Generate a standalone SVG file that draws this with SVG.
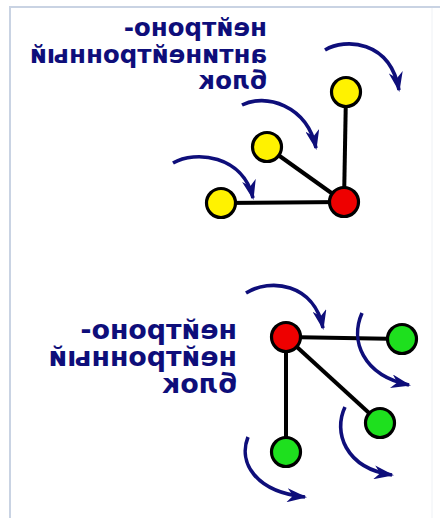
<svg xmlns="http://www.w3.org/2000/svg" width="440" height="518" viewBox="0 0 440 518">
<defs>
<style>
.edge{stroke:#000;stroke-width:4;fill:none}
.arr{stroke:#0e0e7a;stroke-width:3.6;fill:none;marker-end:url(#ah)}
.nd{stroke:#000;stroke-width:3.2}
.y{fill:#fff200}
.r{fill:#ee0000}
.g{fill:#1ee01e}
</style>
<marker id="ah" viewBox="0 0 20 14" refX="18" refY="7" markerWidth="20" markerHeight="14" markerUnits="userSpaceOnUse" orient="auto">
<path d="M0,0 L20,7 L0,14 L6,7 z" fill="#0e0e7a"/>
</marker>
</defs>
<rect x="0" y="0" width="440" height="518" fill="#fff"/>
<path d="M10,518 V7 H440" fill="none" stroke="#c9d3e3" stroke-width="2"/>
<path d="M432,8 V518" fill="none" stroke="#eef1f5" stroke-width="1"/>
<g id="label-top" font-family="DejaVu Sans" font-weight="bold" font-style="normal" fill="#0e0e7a" font-size="24.5">
<text transform="translate(267,0) scale(-1,1)" x="0" y="36">нейтроно-</text>
<text transform="translate(267,0) scale(-1,1)" x="0" y="63">антинейтронный</text>
<text transform="translate(267,0) scale(-1,1)" x="0" y="89">блок</text>
</g>
<g id="label-bottom" font-family="DejaVu Sans" font-weight="bold" font-style="normal" fill="#0e0e7a" font-size="26.8">
<text transform="translate(237,0) scale(-1,1)" x="0" y="339">нейтроно-</text>
<text transform="translate(237,0) scale(-1,1)" x="0" y="366">нейтронный</text>
<text transform="translate(237,0) scale(-1,1)" x="0" y="393">блок</text>
</g>
<g id="connectors">
<line class="edge" x1="344" y1="202" x2="346" y2="92"/>
<line class="edge" x1="344" y1="202" x2="267" y2="147"/>
<line class="edge" x1="344" y1="202" x2="221" y2="203"/>
<line class="edge" x1="286" y1="337" x2="402" y2="339"/>
<line class="edge" x1="286" y1="337" x2="380" y2="423"/>
<line class="edge" x1="286" y1="337" x2="286" y2="452"/>
<path class="arr" d="M325,50 C345,38 390,40 399,90"/>
<path class="arr" d="M242,105 C265,93 307,105 316,148"/>
<path class="arr" d="M173,163 C195,150 243,155 253,198"/>
<path class="arr" d="M246,293 C270,278 314,283 323,328"/>
<path class="arr" d="M362,313 C350,340 362,375 409,385"/>
<path class="arr" d="M345,407 C333,432 345,468 392,475"/>
<path class="arr" d="M248,437 C238,462 255,492 305,497"/>
</g>
<g id="node-top-red"><circle class="nd r" cx="344" cy="202" r="14.5"/></g>
<g id="node-top-y1"><circle class="nd y" cx="346" cy="92" r="14.5"/></g>
<g id="node-top-y2"><circle class="nd y" cx="267" cy="147" r="14.5"/></g>
<g id="node-top-y3"><circle class="nd y" cx="221" cy="203" r="14.5"/></g>
<g id="node-bot-red"><circle class="nd r" cx="286" cy="337" r="14.5"/></g>
<g id="node-bot-g1"><circle class="nd g" cx="402" cy="339" r="14.5"/></g>
<g id="node-bot-g2"><circle class="nd g" cx="380" cy="423" r="14.5"/></g>
<g id="node-bot-g3"><circle class="nd g" cx="286" cy="452" r="14.5"/></g>
</svg>
